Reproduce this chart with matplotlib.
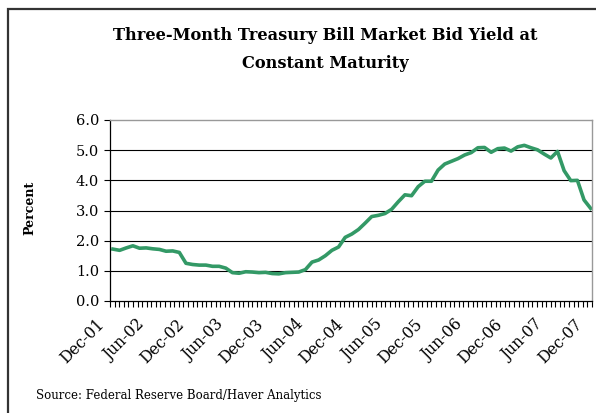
import numpy as np
import matplotlib
matplotlib.use("Agg")
import matplotlib.pyplot as plt
from matplotlib.patches import Rectangle

# Three-month T-bill yield, monthly, Dec-2001 .. Dec-2007 (percent)
yields = [
    1.72,
    1.68, 1.76, 1.83, 1.75, 1.76, 1.73, 1.71, 1.65, 1.66, 1.61, 1.25, 1.21,
    1.19, 1.19, 1.15, 1.15, 1.09, 0.94, 0.92, 0.97, 0.96, 0.94, 0.95, 0.91,
    0.90, 0.94, 0.95, 0.96, 1.04, 1.29, 1.36, 1.50, 1.68, 1.79, 2.11, 2.22,
    2.37, 2.58, 2.80, 2.84, 2.90, 3.04, 3.29, 3.52, 3.49, 3.79, 3.97, 3.97,
    4.34, 4.54, 4.63, 4.72, 4.84, 4.92, 5.08, 5.09, 4.93, 5.05, 5.07, 4.97,
    5.11, 5.16, 5.08, 5.01, 4.87, 4.74, 4.96, 4.32, 3.99, 4.00, 3.35, 3.07,
]
tick_labels = ["Dec-01", "Jun-02", "Dec-02", "Jun-03", "Dec-03", "Jun-04", "Dec-04",
               "Jun-05", "Dec-05", "Jun-06", "Dec-06", "Jun-07", "Dec-07"]
label_step = 6

plt.rcParams["font.family"] = ["DejaVu Serif"]

W, H = 596, 413
fig = plt.figure(figsize=(W / 100, H / 100), dpi=100)
fig.patch.set_facecolor("white")

# outer frame (left and top edges visible)
fig.patches.append(Rectangle((8 / W, -0.2), 1.5, 1 - 9 / H + 0.2,
                             transform=fig.transFigure, fill=False,
                             edgecolor="#333333", linewidth=1.6))

ax = fig.add_axes([110 / W, 1 - 301 / H, (592 - 110) / W, (301 - 120) / H])

x = np.arange(len(yields))
ax.plot(x, yields, color="#339966", linewidth=2.6, solid_joinstyle="round")

ax.set_xlim(-0.45, 72.2)
ax.set_ylim(0, 6)

ax.set_yticks(np.arange(0, 7, 1))
ax.set_yticklabels([f"{v:.1f}" for v in np.arange(0, 7, 1)], fontsize=10.5)
for yv in range(1, 6):
    ax.axhline(yv, color="black", linewidth=0.8, zorder=0)

# date labels every six months, slanted below the axis
ax.set_xticks([])
for pos, lab in zip(x[::label_step], tick_labels):
    ax.annotate(lab, xy=(pos, 0), xycoords=ax.get_xaxis_transform(),
                xytext=(-17, -15), textcoords="offset pixels",
                rotation=45, rotation_mode="anchor", ha="right", va="top",
                fontsize=11.2, annotation_clip=False)

ax.set_xticks(np.linspace(-0.45, 72.2, 106), minor=True)
ax.tick_params(axis="x", which="minor", length=4, width=0.8, direction="out")
ax.tick_params(axis="y", length=4, width=0.8, pad=4)

for side in ("top", "right"):
    ax.spines[side].set_color("#999999")
    ax.spines[side].set_linewidth(1.0)
for side in ("left", "bottom"):
    ax.spines[side].set_color("black")
    ax.spines[side].set_linewidth(0.9)

fig.text(30 / W, 1 - 208 / H, "Percent", rotation=90, ha="center", va="center",
         fontsize=9, fontweight="bold")

fig.text(325 / W, 1 - 35 / H, "Three-Month Treasury Bill Market Bid Yield at",
         ha="center", va="center", fontsize=11.7, fontweight="bold")
fig.text(325 / W, 1 - 63 / H, "Constant Maturity",
         ha="center", va="center", fontsize=11.7, fontweight="bold")

fig.text(36 / W, 1 - 396 / H, "Source: Federal Reserve Board/Haver Analytics",
         ha="left", va="center", fontsize=8.5)

fig.savefig("out.png", dpi=100, facecolor="white")
